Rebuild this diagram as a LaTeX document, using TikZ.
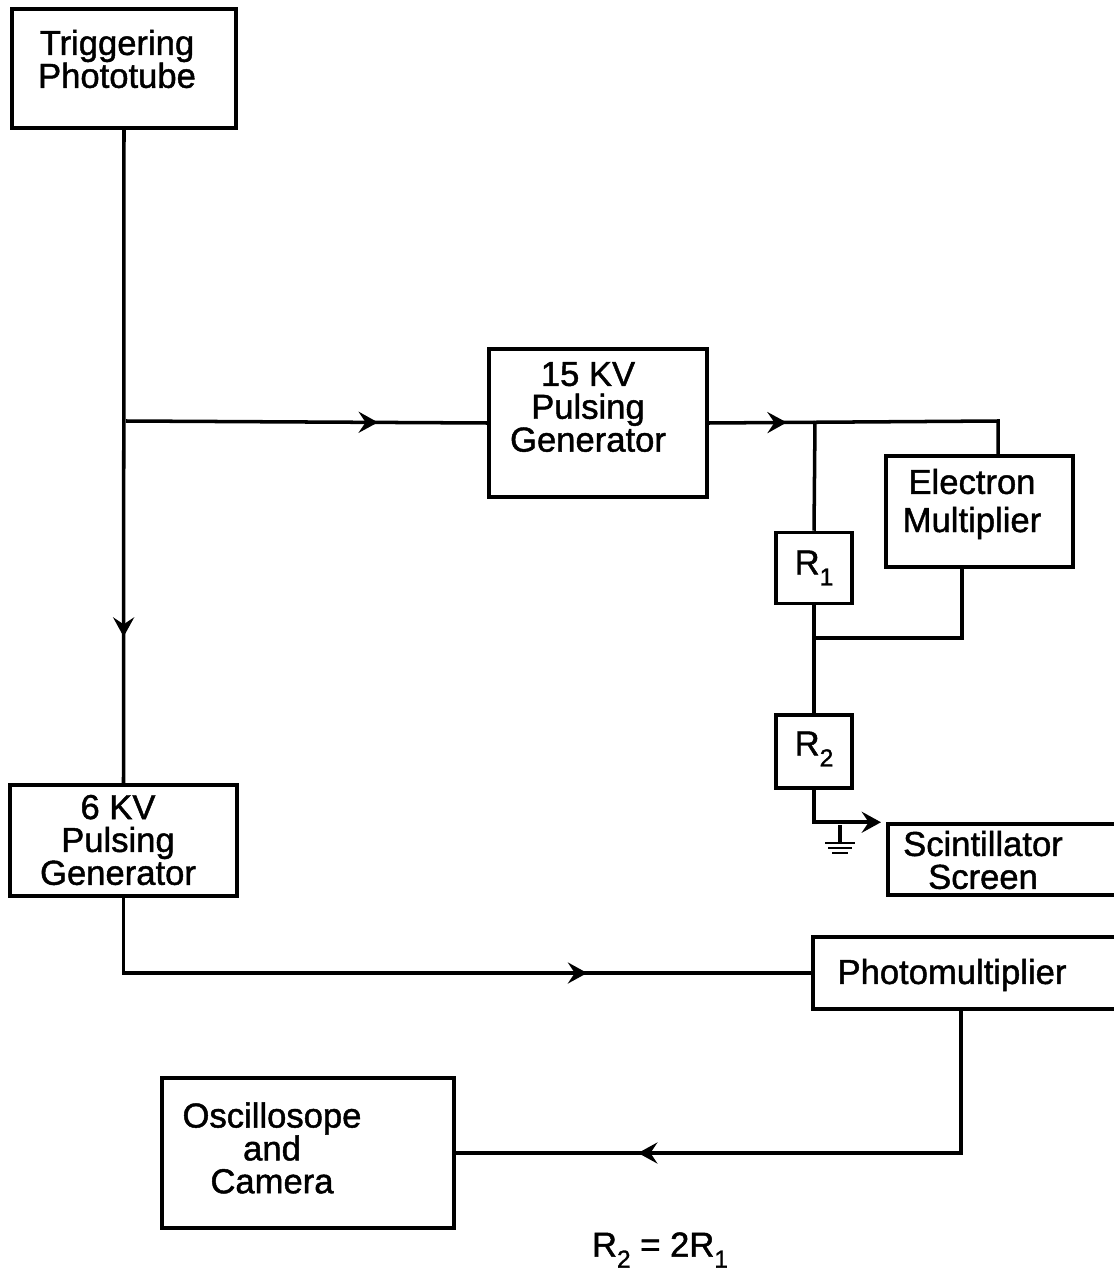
\documentclass[tikz,border=0pt]{standalone}
\usepackage{fontspec}
\setmainfont{Liberation Sans}
\newfontfamily\lerfont{Liberation Sans}[FakeBold=1.3]
\usetikzlibrary{arrows.meta,decorations.markings,calc}
\newdimen\pxu
\pxu=0.02cm
\newcommand\lsub[1]{\raisebox{-0.32em}{\fontsize{14}{14}\selectfont #1}}
\tikzset{
  box/.style={draw, line width=2pt, rectangle, inner sep=0pt},
  txt/.style={font=\lerfont\fontsize{19.7}{18.7}\selectfont, align=center, inner sep=0pt},
  wire/.style={line width=2pt},
  tip/.style={-{Stealth[length=11pt,width=12pt,inset=4pt]}},
  midarrow/.style={postaction={decorate,decoration={markings,
     mark=at position #1 with {\arrow{Stealth[length=11pt,width=12pt,inset=4pt]}}}}}
}
\begin{document}
\begin{tikzpicture}[x=0.02cm,y=-0.02cm]
\useasboundingbox (0,0) rectangle (1114,1283);
\clip (0,0) rectangle (1114,1283);
\fill[white] (0,0) rectangle (1114,1283);

% boxes
\node[box, minimum width={224\pxu}, minimum height={119\pxu}] (trig) at (124,68.5) {};
\node[txt] (trigt) at (117,59) {Triggering\\Phototube};

\node[box, minimum width={218\pxu}, minimum height={148\pxu}] (gen15) at (598,423) {};
\node[txt] (gen15t) at (588,407) {15 KV\\Pulsing\\Generator};

\node[box, minimum width={187\pxu}, minimum height={111\pxu}] (em) at (979.5,511.5) {};
\node[txt] (emt) at (972,504) {Electron\\[3pt]Multiplier};

\node[box, minimum width={76\pxu}, minimum height={71\pxu}] (r1) at (814,568) {};
\node[txt] (r1t) at (814,568) {R\lsub{1}};

\node[box, minimum width={76\pxu}, minimum height={73\pxu}] (r2) at (814,751.5) {};
\node[txt] (r2t) at (814,749) {R\lsub{2}};

\node[box, minimum width={252\pxu}, minimum height={71\pxu}] (scin) at (1014,859.5) {};
\node[txt] (scint) at (983,860) {Scintillator\\Screen};

\node[box, minimum width={227\pxu}, minimum height={111\pxu}] (gen6) at (123.5,840.5) {};
\node[txt] (gen6t) at (118,840) {6 KV\\Pulsing\\Generator};

\node[box, minimum width={327\pxu}, minimum height={72\pxu}] (pm) at (976.5,973) {};
\node[txt] (pmt) at (952,975) {Photomultiplier};

\node[box, minimum width={292\pxu}, minimum height={150\pxu}] (osc) at (308,1153) {};
\node[txt] (osct) at (272,1148) {Oscillosope\\and\\Camera};

\node[txt] (eq) at (660,1250) {R\lsub{2} = 2R\lsub{1}};

% coordinates
\coordinate (jl) at (126,421);
\coordinate (jt) at (815,421);
\coordinate (emn) at (998,421);
\coordinate (ems) at (962,567);
\coordinate (jm) at (815,638);
\coordinate (pms) at (961,1009);
\coordinate (gnd) at (840,825);

% connectors
\draw[wire, midarrow=10.14cm] (trig.south) -- (gen6.north);
\draw[wire, midarrow=5.04cm] (jl) -- (gen15.west);
\draw[wire, midarrow=1.56cm] (gen15.east) -- (emn) -- (em.north -| emn);
\draw[wire] (jt) -- (r1.north);
\draw[wire] (r1.south) -- (r2.north);
\draw[wire] (ems) |- (jm);
\draw[wire, tip, shorten >=3pt] (r2.south) |- (scin.north west);
\draw[wire, midarrow=10.78cm] (gen6.south) |- (pm.west);
\draw[wire, midarrow=9.34cm] (pms) |- (osc.east);

% ground
\draw[wire] (gnd) -- ++(0,18);
\draw[line width=1.5pt] (825,843) -- (855,843);
\draw[line width=1.5pt] (828,848) -- (852,848);
\draw[line width=1.5pt] (832,853) -- (848,853);
\end{tikzpicture}
\end{document}
